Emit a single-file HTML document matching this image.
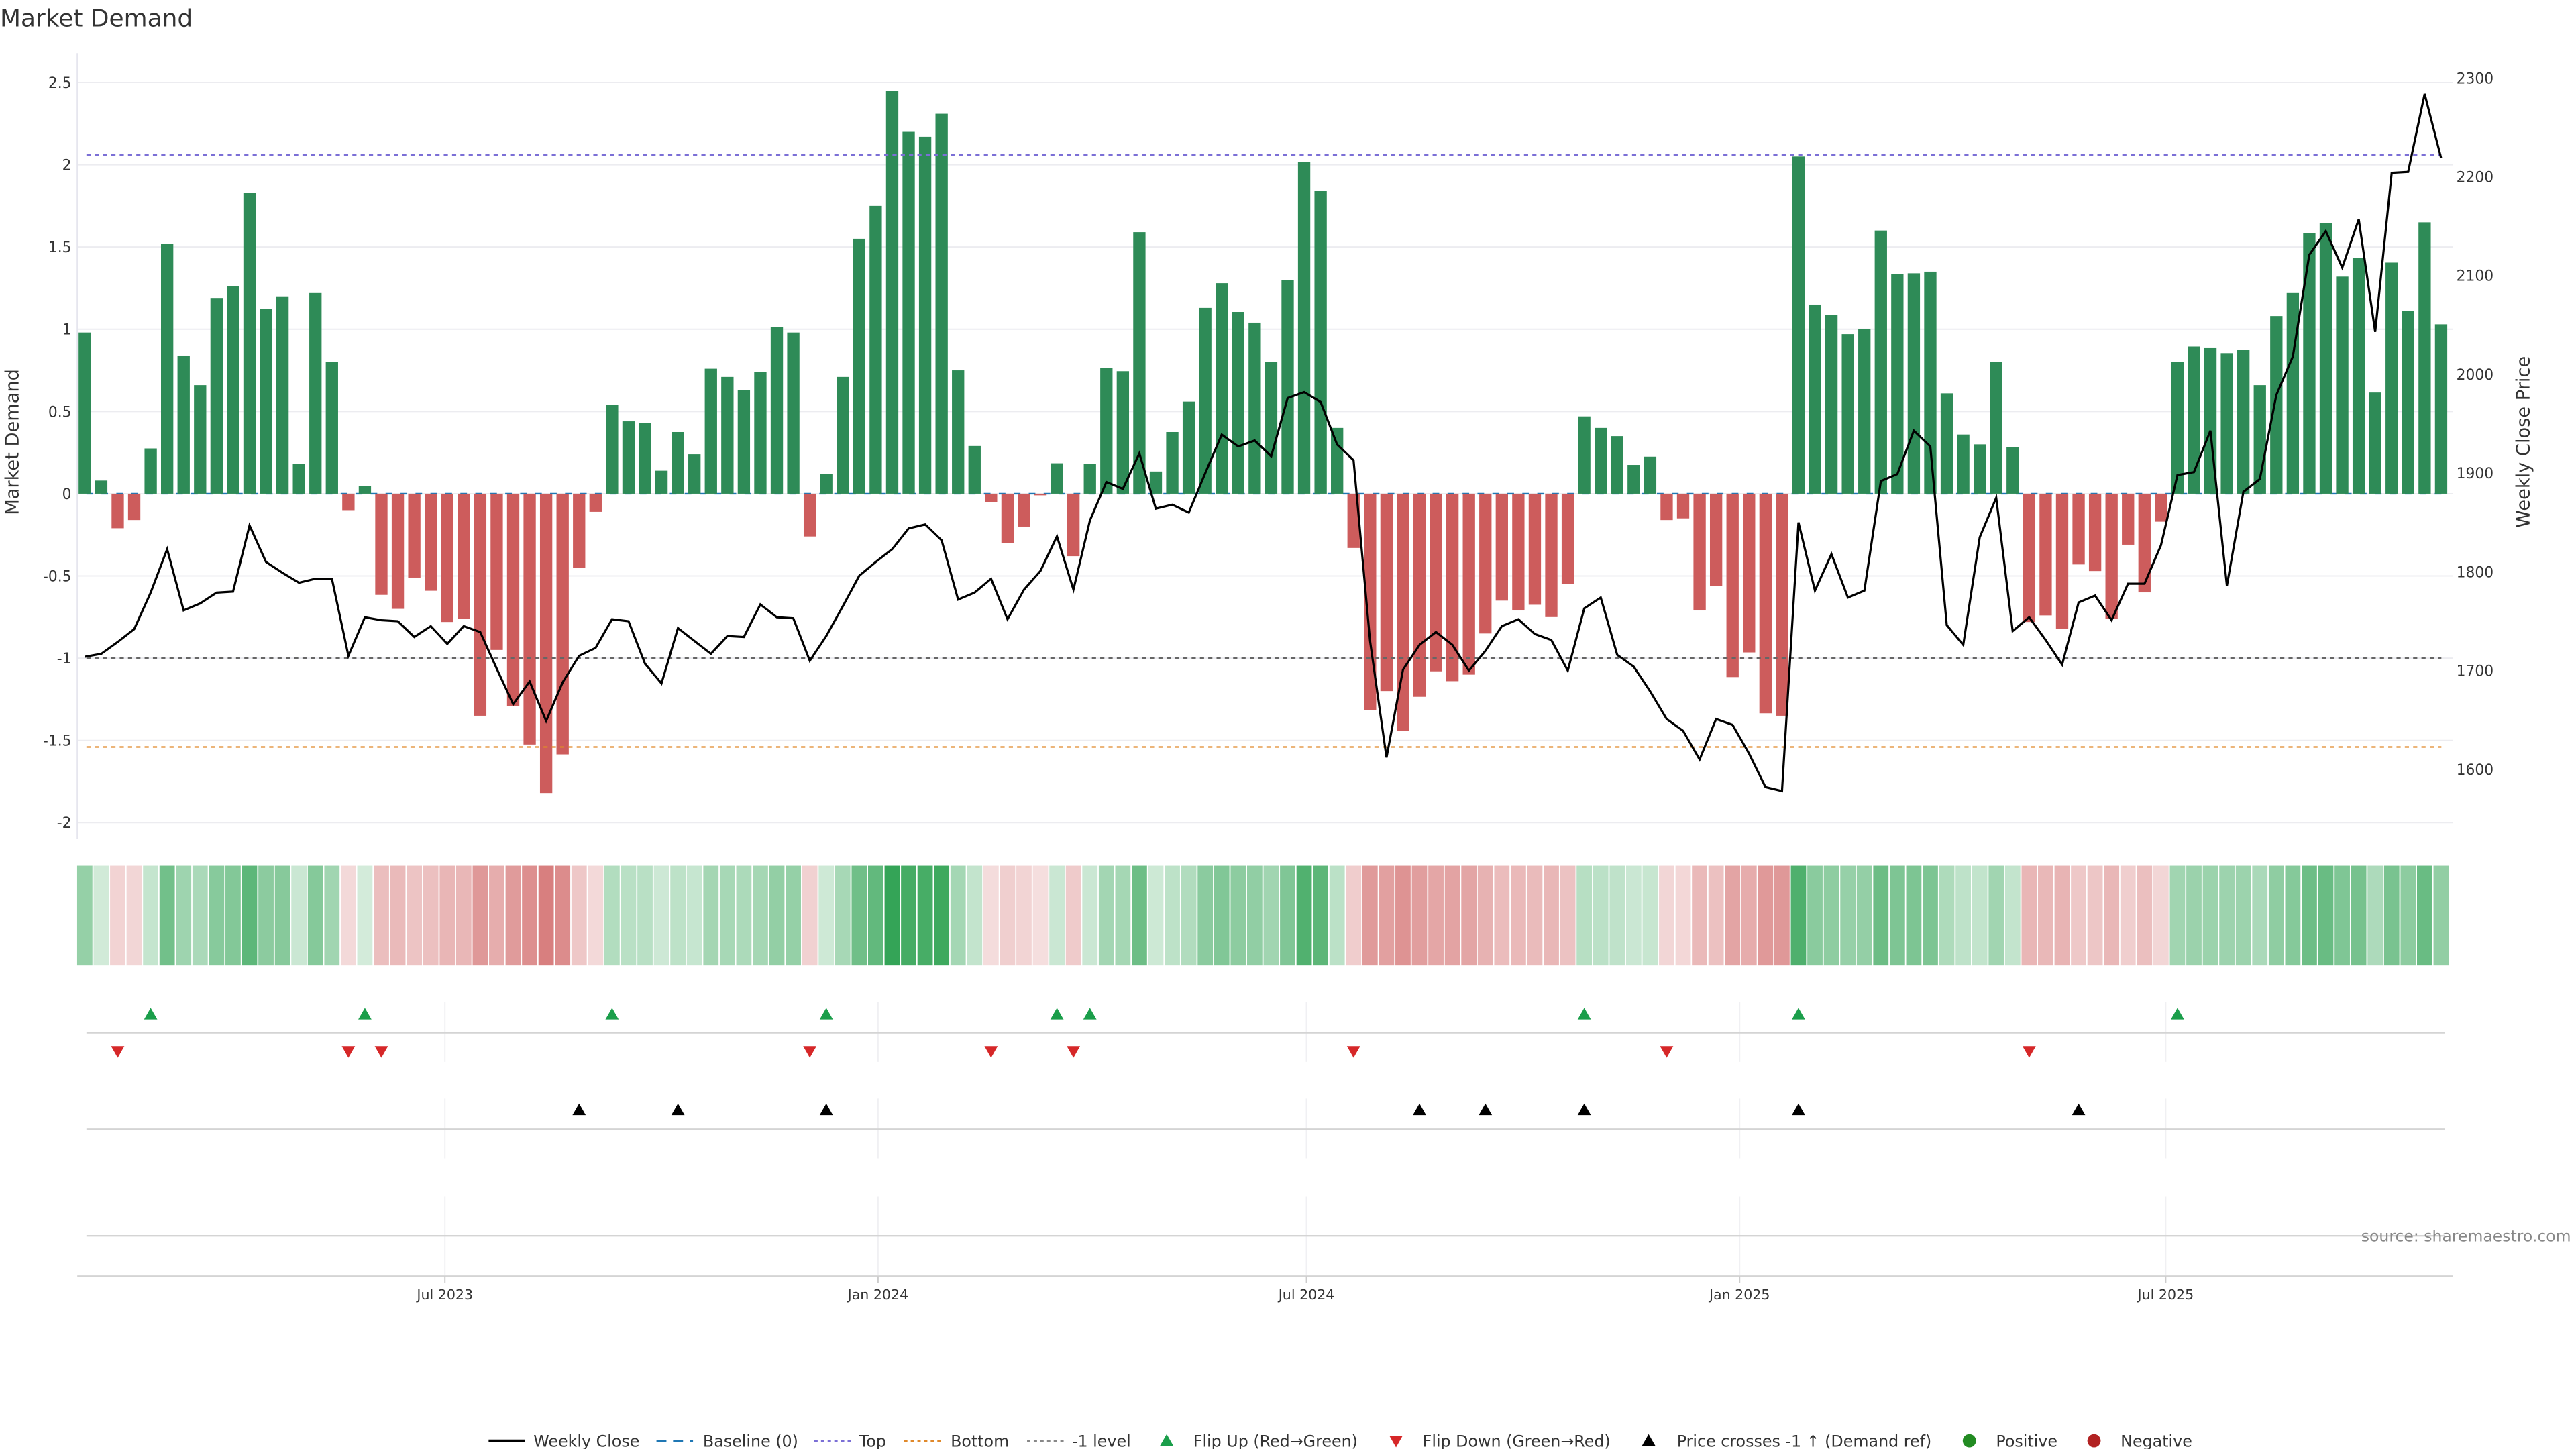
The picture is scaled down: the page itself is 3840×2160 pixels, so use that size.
<!DOCTYPE html>
<html>
<head>
<meta charset="utf-8">
<style>
html,body{margin:0;padding:0;background:#fff;}
svg{display:block;font-family:"DejaVu Sans","Liberation Sans",sans-serif;}
</style>
</head>
<body>
<svg id="chart" width="3840" height="2160" viewBox="0 0 1550 872" preserveAspectRatio="none" xmlns="http://www.w3.org/2000/svg">
  <text x="0" y="16" font-size="14.5" fill="#333">Market Demand</text>
  <g id="grid"></g>
  <g id="refs"></g>
  <g id="bars"></g>
  <g id="line"></g>
  <g id="axes"></g>
  <g id="heat"></g>
  <g id="signals"></g>
  <text transform="translate(11,266) rotate(-90)" text-anchor="middle" font-size="11" fill="#333">Market Demand</text>
  <text transform="translate(1522,266) rotate(-90)" text-anchor="middle" font-size="11" fill="#333">Weekly Close Price</text>
  <text x="1547" y="747" text-anchor="end" font-size="9.5" fill="#888">source: sharemaestro.com</text>
  <g id="legend"></g>
</svg>
<script>
const demand = [0.98,0.08,-0.21,-0.16,0.275,1.52,0.84,0.66,1.19,1.26,
1.83,1.125,1.20,0.18,1.22,0.80,-0.10,0.045,-0.615,-0.70,
-0.51,-0.59,-0.78,-0.76,-1.35,-0.95,-1.29,-1.525,-1.82,-1.585,
-0.45,-0.11,0.54,0.44,0.43,0.14,0.375,0.24,0.76,0.71,
0.63,0.74,1.015,0.98,-0.26,0.12,0.71,1.55,1.75,2.45,
2.20,2.17,2.31,0.75,0.29,-0.05,-0.30,-0.20,-0.01,0.185,
-0.38,0.18,0.765,0.745,1.59,0.135,0.375,0.56,1.13,1.28,
1.105,1.04,0.80,1.30,2.015,1.84,0.40,-0.33,-1.315,-1.20,
-1.44,-1.235,-1.08,-1.14,-1.10,-0.85,-0.65,-0.71,-0.675,-0.75,
-0.55,0.47,0.40,0.35,0.175,0.225,-0.16,-0.15,-0.71,-0.56,
-1.115,-0.965,-1.335,-1.35,2.05,1.15,1.085,0.97,1.00,1.60,
1.335,1.34,1.35,0.61,0.36,0.30,0.80,0.285,-0.78,-0.74,
-0.82,-0.43,-0.47,-0.76,-0.31,-0.60,-0.17,0.80,0.895,0.885,
0.855,0.875,0.66,1.08,1.22,1.585,1.645,1.32,1.435,0.615,
1.405,1.11,1.65,1.03];
const closePrice = [1714,1717,1729,1742,1779,1823,1761,1768,1779,1780,
1847,1810,1799,1789,1793,1793,1715,1754,1751,1750,
1734,1745,1727,1745,1739,1702,1666,1689,1649,1688,
1715,1723,1752,1750,1707,1687,1743,1730,1717,1735,
1734,1767,1754,1753,1710,1735,1765,1796,1810,1823,
1844,1848,1832,1772,1779,1793,1752,1782,1801,1836,
1782,1852,1891,1884,1920,1864,1868,1860,1900,1939,
1927,1933,1917,1976,1982,1972,1929,1913,1730,1612,
1701,1726,1739,1726,1700,1720,1745,1752,1737,1731,
1700,1763,1774,1716,1704,1679,1651,1639,1610,1651,
1645,1616,1582,1578,1850,1781,1818,1774,1781,1892,
1899,1943,1927,1746,1726,1835,1875,1740,1754,1731,
1706,1769,1776,1751,1788,1788,1827,1898,1901,1943,
1786,1881,1894,1979,2018,2121,2145,2108,2157,2043,
2204,2205,2284,2219];
const startDate = "2023-01-29";
const leftTicks = [2.5,2,1.5,1,0.5,0,-0.5,-1,-1.5,-2];
const rightTicks = [2300,2200,2100,2000,1900,1800,1700,1600];
const xTickDates = ["2023-07-01","2024-01-01","2024-07-01","2025-01-01","2025-07-01"];
const xTickLabels = ["Jul 2023","Jan 2024","Jul 2024","Jan 2025","Jul 2025"];
const topLevel = 2.06;
const bottomLevel = -1.54;
const refLevel = -1;

const NS = "http://www.w3.org/2000/svg";
const DAY = 86400000;
const STEP = 9.915;
const d0 = Date.parse(startDate);
function xDate(s){ return 51 + (Date.parse(s)-d0)/DAY*(STEP/7); }
function xIdx(i){ return 51 + i*STEP; }
function yD(v){ return 297.1 - v*98.98; }
function yP(p){ return 284.7 - (p-1900)*0.5943; }
function el(tag, attrs, parent){
  const e = document.createElementNS(NS, tag);
  for (const k in attrs) e.setAttribute(k, attrs[k]);
  parent.appendChild(e);
  return e;
}
const $ = id => document.getElementById(id);
const X0 = 46.5, X1 = 1476;

leftTicks.forEach(v => {
  const g = el('line',{x1:X0,x2:X1,y1:yD(v),y2:yD(v),stroke:'#ececf0','stroke-width':0.8},$('grid'));
  
  
  const t = el('text',{x:43,y:yD(v)+3.2,'text-anchor':'end','font-size':8.8,fill:'#333'},$('axes'));
  t.textContent = String(v);
  
  
});
rightTicks.forEach(p => {
  const t = el('text',{x:1478,y:yP(p)+3.2,'font-size':8.8,fill:'#333'},$('axes'));
  t.textContent = String(p);
  
  
});
const ax = el('line',{x1:X0,x2:X0,y1:32,y2:505,stroke:'#e6e6ee','stroke-width':0.8},$('axes'));



demand.forEach((v,i) => {
  const x = xIdx(i), w = 7.4;
  const y = Math.min(yD(v), yD(0)), h = Math.abs(yD(v)-yD(0));
  const b = el('rect',{x:x-w/2,y:y,width:w,height:Math.max(h,0.4),fill:v>=0?'#2e8b57':'#cd5c5c'},$('bars'));
  
  
});
const refs = [[0,'#1f77b4','4,5','baseline-zero-line'],[topLevel,'#7b6fd6','2.5,2.5','top-level-line'],[bottomLevel,'#e0892b','2.5,2.5','bottom-level-line'],[refLevel,'#666','2.5,2.5','minus-one-level-line']];
refs.forEach(r => {
  const l = el('line',{x1:52,x2:1469,y1:yD(r[0]),y2:yD(r[0]),stroke:r[1],'stroke-width':r[0]===0?1:0.9,'stroke-dasharray':r[2]},r[0]===0?$('refs'):$('line'));
  
  
});
const pts = closePrice.map((p,i)=>xIdx(i).toFixed(2)+','+yP(p).toFixed(2)).join(' ');
const pl = el('polyline',{points:pts,fill:'none',stroke:'#000','stroke-width':1.3,'stroke-linejoin':'miter'},$('line'));



demand.forEach((v,i) => {
  const a = 0.2 + 0.8*Math.min(Math.abs(v)/2.5,1);
  const base = v>=0 ? [49,163,84] : [205,92,92];
  const c = base.map(cc => Math.round(255 - a*(255-cc)));
  const r = el('rect',{x:xIdx(i)-4.6,y:521,width:9.2,height:60,fill:'rgb('+c.join(',')+')'},$('heat'));
  
  
});

[[603,639],[661,697],[720,767]].forEach(rg => {
  xTickDates.forEach(d => {
    const l = el('line',{x1:xDate(d),x2:xDate(d),y1:rg[0],y2:rg[1],stroke:'#f0f0f3','stroke-width':0.8},$('signals'));
    
    
  });
});
[621.5,679.6,743.7].forEach(y => {
  const l = el('line',{x1:52,x2:1471,y1:y,y2:y,stroke:'#d4d4d4','stroke-width':1},$('signals'));
  
  
});
const xa = el('line',{x1:X0,x2:X1,y1:768,y2:768,stroke:'#d4d4d4','stroke-width':1},$('axes'));


xTickDates.forEach((d,i) => {
  const tk = el('line',{x1:xDate(d),x2:xDate(d),y1:768,y2:772,stroke:'#ccc','stroke-width':0.8},$('axes'));
  
  
  const t = el('text',{x:xDate(d),y:782,'text-anchor':'middle','font-size':8.3,fill:'#333'},$('axes'));
  t.textContent = xTickLabels[i];
  
  
});
function tri(x,y,up,color,parent){
  const p = up ? `${x-4},${y+3.5} ${x+4},${y+3.5} ${x},${y-3.5}` : `${x-4},${y-3.5} ${x+4},${y-3.5} ${x},${y+3.5}`;
  return el('polygon',{points:p,fill:color},parent);
}
for (let i=1;i<demand.length;i++){
  if (demand[i-1] < 0 && demand[i] >= 0){
    const m = tri(xIdx(i),610,true,'#1a9e4a',$('signals'));
    
    
  }
  if (demand[i-1] >= 0 && demand[i] < 0){
    const m = tri(xIdx(i),633,false,'#d62728',$('signals'));
    
    
  }
  if (yP(closePrice[i-1]) > yD(refLevel) && yP(closePrice[i]) <= yD(refLevel)){
    const m = tri(xIdx(i),667.5,true,'#000',$('signals'));
    
    
  }
}

const L = $('legend'), ly = 867;
function ltext(x, s){
  const t = el('text',{x:x,y:ly+3.5,'font-size':9.6,fill:'#333'},L);
  t.textContent = s;
  
  
}
function lline(x, color, dash, w){
  const l = el('line',{x1:x,x2:x+22,y1:ly,y2:ly,stroke:color,'stroke-width':w,'stroke-dasharray':dash},L);
  
  
}
lline(294,'#000','none',1.5); ltext(321,'Weekly Close');
lline(395,'#1f77b4','6,4',1.2); ltext(423,'Baseline (0)');
lline(490,'#7b6fd6','2,2',1.2); ltext(517,'Top');
lline(544,'#e0892b','2,2',1.2); ltext(572,'Bottom');
lline(618,'#888','2,2',1.2); ltext(645,'-1 level');
let m;
m = tri(702,ly-0.5,true,'#1a9e4a',L);


ltext(718,'Flip Up (Red\u2192Green)');
m = tri(840,ly+0.5,false,'#d62728',L);


ltext(856,'Flip Down (Green\u2192Red)');
m = tri(992,ly-0.5,true,'#000',L);


ltext(1009,'Price crosses -1 \u2191 (Demand ref)');
m = el('circle',{cx:1185,cy:ly,r:4,fill:'#228b22'},L);


ltext(1201,'Positive');
m = el('circle',{cx:1260,cy:ly,r:4,fill:'#b22222'},L);


ltext(1276,'Negative');
</script>
</body>
</html>
